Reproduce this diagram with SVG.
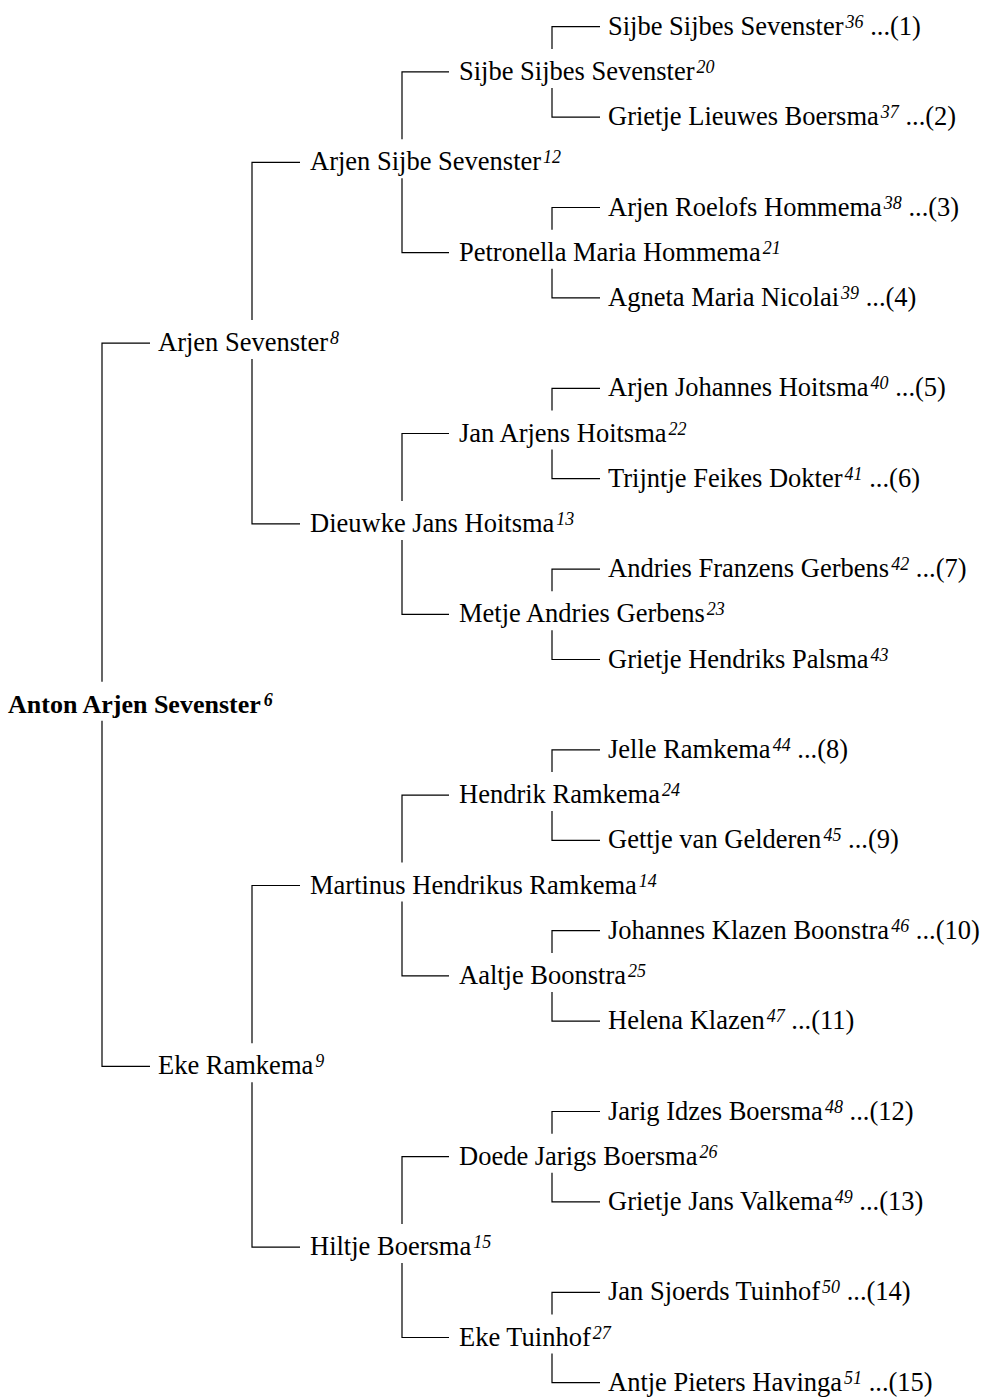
<svg xmlns="http://www.w3.org/2000/svg" width="984" height="1400" viewBox="0 0 984 1400">
<style>
text{font-family:"Liberation Serif","Times New Roman",serif;font-size:26.5px;fill:#000}
.root{font-weight:bold;font-size:26px}
.sup{font-size:18px;font-style:italic}
.c{fill:none;stroke:#000;stroke-width:1.2}
</style>
<rect width="984" height="1400" fill="#fff"/>
<g id="connectors">
<path class="c" d="M150 343.1H102V681.7M102 720.7V1066.3H150"/>
<path class="c" d="M300 162.3H252V320.1M252 359.1V523.9H300"/>
<path class="c" d="M300 885.5H252V1043.3M252 1082.3V1247.1H300"/>
<path class="c" d="M449 71.9H402V139.3M402 178.3V252.7H449"/>
<path class="c" d="M449 433.5H402V500.9M402 539.9V614.3H449"/>
<path class="c" d="M449 795.1H402V862.5M402 901.5V975.9H449"/>
<path class="c" d="M449 1156.7H402V1224.1M402 1263.1V1337.5H449"/>
<path class="c" d="M600 26.7H552V48.9M552 87.9V117.1H600"/>
<path class="c" d="M600 207.5H552V229.7M552 268.7V297.9H600"/>
<path class="c" d="M600 388.3H552V410.5M552 449.5V478.7H600"/>
<path class="c" d="M600 569.1H552V591.3M552 630.3V659.5H600"/>
<path class="c" d="M600 749.9H552V772.1M552 811.1V840.3H600"/>
<path class="c" d="M600 930.7H552V952.9M552 991.9V1021.1H600"/>
<path class="c" d="M600 1111.5H552V1133.7M552 1172.7V1201.9H600"/>
<path class="c" d="M600 1292.3H552V1314.5M552 1353.5V1382.7H600"/>
</g>
<g id="p6"><text class="root" x="8" y="712.7">Anton Arjen Sevenster<tspan class="sup" dx="3" dy="-7">6</tspan></text></g>
<g id="p8"><text x="158" y="351.1">Arjen Sevenster<tspan class="sup" dx="2" dy="-7">8</tspan></text></g>
<g id="p9"><text x="158" y="1074.3">Eke Ramkema<tspan class="sup" dx="2" dy="-7">9</tspan></text></g>
<g id="p12"><text x="310" y="170.3">Arjen Sijbe Sevenster<tspan class="sup" dx="2" dy="-7">12</tspan></text></g>
<g id="p13"><text x="310" y="531.9">Dieuwke Jans Hoitsma<tspan class="sup" dx="2" dy="-7">13</tspan></text></g>
<g id="p14"><text x="310" y="893.5">Martinus Hendrikus Ramkema<tspan class="sup" dx="2" dy="-7">14</tspan></text></g>
<g id="p15"><text x="310" y="1255.1">Hiltje Boersma<tspan class="sup" dx="2" dy="-7">15</tspan></text></g>
<g id="p20"><text x="459" y="79.9">Sijbe Sijbes Sevenster<tspan class="sup" dx="2" dy="-7">20</tspan></text></g>
<g id="p21"><text x="459" y="260.7">Petronella Maria Hommema<tspan class="sup" dx="2" dy="-7">21</tspan></text></g>
<g id="p22"><text x="459" y="441.5">Jan Arjens Hoitsma<tspan class="sup" dx="2" dy="-7">22</tspan></text></g>
<g id="p23"><text x="459" y="622.3">Metje Andries Gerbens<tspan class="sup" dx="2" dy="-7">23</tspan></text></g>
<g id="p24"><text x="459" y="803.1">Hendrik Ramkema<tspan class="sup" dx="2" dy="-7">24</tspan></text></g>
<g id="p25"><text x="459" y="983.9">Aaltje Boonstra<tspan class="sup" dx="2" dy="-7">25</tspan></text></g>
<g id="p26"><text x="459" y="1164.7">Doede Jarigs Boersma<tspan class="sup" dx="2" dy="-7">26</tspan></text></g>
<g id="p27"><text x="459" y="1345.5">Eke Tuinhof<tspan class="sup" dx="2" dy="-7">27</tspan></text></g>
<g id="p36"><text x="608" y="34.7">Sijbe Sijbes Sevenster<tspan class="sup" dx="2" dy="-7">36</tspan><tspan dy="7"> ...(1)</tspan></text></g>
<g id="p37"><text x="608" y="125.1">Grietje Lieuwes Boersma<tspan class="sup" dx="2" dy="-7">37</tspan><tspan dy="7"> ...(2)</tspan></text></g>
<g id="p38"><text x="608" y="215.5">Arjen Roelofs Hommema<tspan class="sup" dx="2" dy="-7">38</tspan><tspan dy="7"> ...(3)</tspan></text></g>
<g id="p39"><text x="608" y="305.9">Agneta Maria Nicolai<tspan class="sup" dx="2" dy="-7">39</tspan><tspan dy="7"> ...(4)</tspan></text></g>
<g id="p40"><text x="608" y="396.3">Arjen Johannes Hoitsma<tspan class="sup" dx="2" dy="-7">40</tspan><tspan dy="7"> ...(5)</tspan></text></g>
<g id="p41"><text x="608" y="486.7">Trijntje Feikes Dokter<tspan class="sup" dx="2" dy="-7">41</tspan><tspan dy="7"> ...(6)</tspan></text></g>
<g id="p42"><text x="608" y="577.1">Andries Franzens Gerbens<tspan class="sup" dx="2" dy="-7">42</tspan><tspan dy="7"> ...(7)</tspan></text></g>
<g id="p43"><text x="608" y="667.5">Grietje Hendriks Palsma<tspan class="sup" dx="2" dy="-7">43</tspan></text></g>
<g id="p44"><text x="608" y="757.9">Jelle Ramkema<tspan class="sup" dx="2" dy="-7">44</tspan><tspan dy="7"> ...(8)</tspan></text></g>
<g id="p45"><text x="608" y="848.3">Gettje van Gelderen<tspan class="sup" dx="2" dy="-7">45</tspan><tspan dy="7"> ...(9)</tspan></text></g>
<g id="p46"><text x="608" y="938.7">Johannes Klazen Boonstra<tspan class="sup" dx="2" dy="-7">46</tspan><tspan dy="7"> ...(10)</tspan></text></g>
<g id="p47"><text x="608" y="1029.1">Helena Klazen<tspan class="sup" dx="2" dy="-7">47</tspan><tspan dy="7"> ...(11)</tspan></text></g>
<g id="p48"><text x="608" y="1119.5">Jarig Idzes Boersma<tspan class="sup" dx="2" dy="-7">48</tspan><tspan dy="7"> ...(12)</tspan></text></g>
<g id="p49"><text x="608" y="1209.9">Grietje Jans Valkema<tspan class="sup" dx="2" dy="-7">49</tspan><tspan dy="7"> ...(13)</tspan></text></g>
<g id="p50"><text x="608" y="1300.3">Jan Sjoerds Tuinhof<tspan class="sup" dx="2" dy="-7">50</tspan><tspan dy="7"> ...(14)</tspan></text></g>
<g id="p51"><text x="608" y="1390.7">Antje Pieters Havinga<tspan class="sup" dx="2" dy="-7">51</tspan><tspan dy="7"> ...(15)</tspan></text></g>
</svg>
